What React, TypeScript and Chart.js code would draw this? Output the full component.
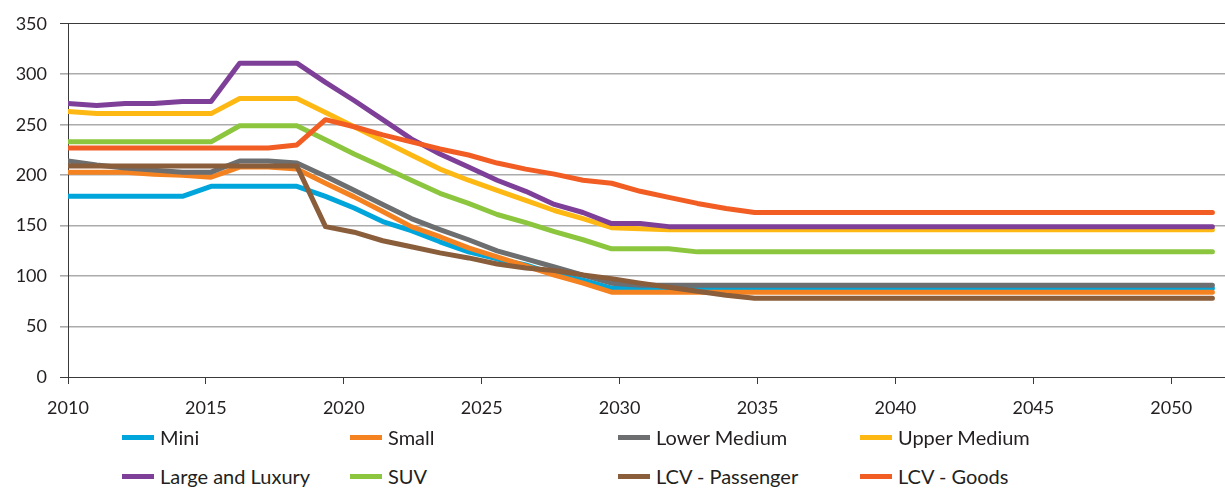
import React, { useEffect, useRef } from "react";
import { Chart, registerables } from "chart.js";

Chart.register(...registerables);

const YEARS = [
  2010, 2011, 2012, 2013, 2014, 2015, 2016, 2017, 2018, 2019,
  2020, 2021, 2022, 2023, 2024, 2025, 2026, 2027, 2028, 2029,
  2030, 2031, 2032, 2033, 2034, 2035, 2036, 2037, 2038, 2039,
  2040, 2041, 2042, 2043, 2044, 2045, 2046, 2047, 2048, 2049, 2050,
];

const TICK_YEARS = [2010, 2015, 2020, 2025, 2030, 2035, 2040, 2045, 2050];
const Y_TICKS = [0, 50, 100, 150, 200, 250, 300, 350];

const MINI = [
  179, 179, 179, 179, 179, 189, 189, 189, 189, 179,
  167.5, 154, 145, 134, 124, 117, 111, 102, 96, 88,
  88, 88, 88, 88, 88, 88, 88, 88, 88, 88,
  88, 88, 88, 88, 88, 88, 88, 88, 88, 88, 88,
];
const SMALL = [
  203, 203, 203, 201, 200, 198, 208, 208, 206, 192,
  178.5, 164, 149, 139, 128, 119, 110, 101, 93, 84,
  84, 84, 84, 84, 84, 84, 84, 84, 84, 84,
  84, 84, 84, 84, 84, 84, 84, 84, 84, 84, 84,
];
const LOWER_MEDIUM = [
  214, 210, 207, 205, 203, 203, 214, 214, 212, 199,
  185, 171, 157, 146, 136, 125, 117, 109, 101, 93,
  91, 91, 91, 91, 91, 91, 91, 91, 91, 91,
  91, 91, 91, 91, 91, 91, 91, 91, 91, 91, 91,
];
const UPPER_MEDIUM = [
  263, 261, 261, 261, 261, 261, 276, 276, 276, 262,
  248, 234, 220, 206, 195, 185, 175, 165, 157, 148,
  147, 146, 146, 146, 146, 146, 146, 146, 146, 146,
  146, 146, 146, 146, 146, 146, 146, 146, 146, 146, 146,
];
const LARGE_LUXURY = [
  271, 269, 271, 271, 273, 273, 311, 311, 311, 292,
  274, 255, 236, 221, 208, 195, 184, 171, 163, 152,
  152, 149, 149, 149, 149, 149, 149, 149, 149, 149,
  149, 149, 149, 149, 149, 149, 149, 149, 149, 149, 149,
];
const SUV = [
  233, 233, 233, 233, 233, 233, 249, 249, 249, 235,
  221, 208, 195, 182, 172, 161, 153, 144, 136, 127,
  127, 127, 124, 124, 124, 124, 124, 124, 124, 124,
  124, 124, 124, 124, 124, 124, 124, 124, 124, 124, 124,
];
const LCV_PASSENGER = [
  209, 209, 209, 209, 209, 209, 209, 209, 209, 149,
  143.5, 135, 129, 123, 118, 112, 108, 105.5, 101, 97.5,
  93, 89, 85, 81, 78, 78, 78, 78, 78, 78,
  78, 78, 78, 78, 78, 78, 78, 78, 78, 78, 78,
];
const LCV_GOODS = [
  227, 227, 227, 227, 227, 227, 227, 227, 230, 255,
  248, 240, 233, 226, 220, 212, 206, 201, 195, 192,
  184, 178, 172, 167, 163, 163, 163, 163, 163, 163,
  163, 163, 163, 163, 163, 163, 163, 163, 163, 163, 163,
];

const SERIES_LABELS = [
  "Mini",
  "Small",
  "Lower Medium",
  "Upper Medium",
  "Large and Luxury",
  "SUV",
  "LCV - Passenger",
  "LCV - Goods",
];
const SERIES_VALUES = [
  MINI,
  SMALL,
  LOWER_MEDIUM,
  UPPER_MEDIUM,
  LARGE_LUXURY,
  SUV,
  LCV_PASSENGER,
  LCV_GOODS,
];
const SERIES_COLORS = [
  "#00A6DB",
  "#F58220",
  "#6D6E70",
  "#FDB813",
  "#7E3F98",
  "#8CC63F",
  "#8A5D3B",
  "#F15D22",
];

const FONT = "Lato, 'Open Sans', sans-serif";
const TEXT_COLOR = "#231f20";
const AXIS_COLOR = "#3a3a3a";

const LEGEND_COLS = [122, 350, 618, 860];
const LEGEND_ROWS = [437, 476];

export default function App() {
  const canvasRef = useRef<HTMLCanvasElement | null>(null);

  useEffect(() => {
    const canvas = canvasRef.current;
    if (!canvas) return;
    const chart = new Chart(canvas, {
      type: "line",
      data: {
        datasets: SERIES_LABELS.map((label, i) => ({
          label,
          data: YEARS.map((yr, j) => ({ x: yr, y: SERIES_VALUES[i][j] })),
          borderColor: SERIES_COLORS[i],
          backgroundColor: SERIES_COLORS[i],
          borderWidth: 5,
          pointRadius: 0,
          pointHoverRadius: 0,
          tension: 0,
          fill: false,
          borderJoinStyle: "round",
          borderCapStyle: "round",
          order: SERIES_LABELS.length - i,
        })),
      },
      options: {
        responsive: false,
        animation: false,
        events: [],
        layout: { padding: { top: 17, left: 0, right: 0, bottom: 0 } },
        plugins: {
          legend: { display: false },
          tooltip: { enabled: false },
        },
        scales: {
          x: {
            type: "linear",
            display: false,
            min: 2010,
            max: 2050.44,
          },
          x2: {
            type: "linear",
            position: "bottom",
            min: 2010,
            max: 2051.95,
            afterBuildTicks: (s: any) => {
              s.ticks = TICK_YEARS.map((v) => ({ value: v }));
            },
            afterFit: (s: any) => {
              s.height = 48;
            },
            grid: {
              drawOnChartArea: false,
              drawTicks: true,
              tickLength: 7,
              color: AXIS_COLOR,
              lineWidth: 1,
            },
            border: { display: true, color: AXIS_COLOR, width: 1 },
            ticks: {
              padding: 13,
              color: TEXT_COLOR,
              font: { family: FONT, size: 18 },
              maxRotation: 0,
              autoSkip: false,
              callback: (v: any) => String(v),
            },
          },
          y: {
            type: "linear",
            min: 0,
            max: 350,
            afterBuildTicks: (s: any) => {
              s.ticks = Y_TICKS.map((v) => ({ value: v }));
            },
            afterFit: (s: any) => {
              s.width = 68;
            },
            grid: {
              drawTicks: true,
              tickLength: 8,
              color: (ctx: any) =>
                ctx.tick && (ctx.tick.value === 350 || ctx.tick.value === 0)
                  ? AXIS_COLOR
                  : "#ABABAB",
              lineWidth: (ctx: any) =>
                ctx.tick && (ctx.tick.value === 350 || ctx.tick.value === 0) ? 1 : 1.6,
            },
            border: { display: true, color: AXIS_COLOR, width: 1 },
            ticks: {
              padding: 13,
              color: TEXT_COLOR,
              font: { family: FONT, size: 18 },
              autoSkip: false,
              callback: (v: any) => String(v),
            },
          },
        },
      },
    } as any);
    return () => chart.destroy();
  }, []);

  return (
    <div
      style={{
        position: "absolute",
        left: 0,
        top: 0,
        width: 1225,
        height: 491,
        background: "#ffffff",
        overflow: "hidden",
      }}
    >
      <canvas
        ref={canvasRef}
        width={1225}
        height={425}
        style={{ position: "absolute", left: 0, top: 0, width: 1225, height: 425 }}
      />
      {SERIES_LABELS.map((label, i) => {
        const row = Math.floor(i / 4);
        const col = i % 4;
        return (
          <div
            key={label}
            style={{
              position: "absolute",
              left: LEGEND_COLS[col],
              top: LEGEND_ROWS[row] - 16,
              height: 32,
              display: "flex",
              alignItems: "center",
              whiteSpace: "nowrap",
            }}
          >
            <span
              style={{
                display: "inline-block",
                width: 32,
                height: 5,
                background: SERIES_COLORS[i],
                marginRight: 6,
              }}
            />
            <span
              style={{
                fontFamily: FONT,
                fontSize: 20,
                color: TEXT_COLOR,
                lineHeight: "32px",
              }}
            >
              {label}
            </span>
          </div>
        );
      })}
    </div>
  );
}
